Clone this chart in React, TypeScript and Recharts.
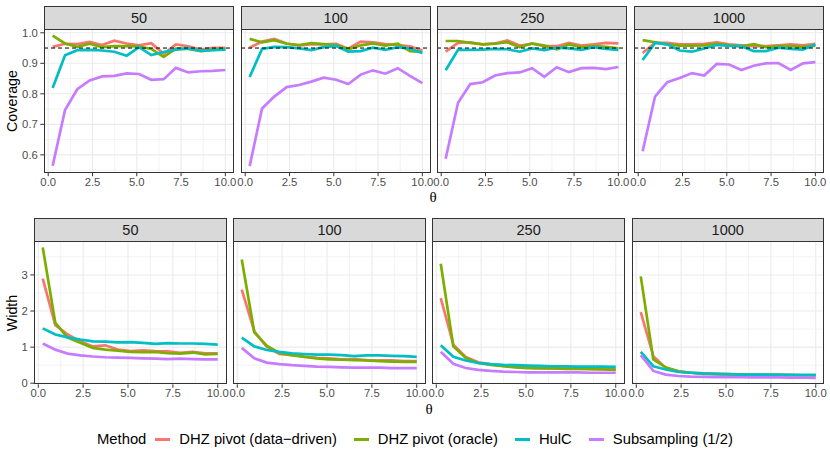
import { CartesianGrid, Line, LineChart, ReferenceLine, XAxis, YAxis } from "recharts";

const THETA = [0.25, 0.95, 1.64, 2.34, 3.04, 3.73, 4.43, 5.13, 5.82, 6.52, 7.21, 7.91, 8.61, 9.3, 10];

const METHODS = ["DHZ pivot (data\u2212driven)", "DHZ pivot (oracle)", "HulC", "Subsampling (1/2)"];
const COLORS = ["#F8766D", "#7CAE00", "#00BFC4", "#C77CFF"];
const SAMPLE_SIZES = ["50", "100", "250", "1000"];

// rows follow METHODS order
const COVERAGE_50 = [
  [0.954, 0.964, 0.963, 0.97, 0.96, 0.974, 0.965, 0.959, 0.966, 0.931, 0.962, 0.956, 0.945, 0.951, 0.951],
  [0.991, 0.965, 0.954, 0.964, 0.953, 0.956, 0.956, 0.955, 0.947, 0.921, 0.948, 0.947, 0.94, 0.945, 0.947],
  [0.819, 0.926, 0.943, 0.944, 0.942, 0.938, 0.925, 0.953, 0.927, 0.937, 0.945, 0.949, 0.941, 0.943, 0.945],
  [0.564, 0.747, 0.815, 0.844, 0.857, 0.859, 0.867, 0.865, 0.846, 0.848, 0.885, 0.87, 0.874, 0.875, 0.878],
];
const COVERAGE_100 = [
  [0.951, 0.971, 0.98, 0.965, 0.958, 0.963, 0.962, 0.964, 0.948, 0.971, 0.969, 0.963, 0.96, 0.956, 0.942],
  [0.98, 0.969, 0.976, 0.964, 0.96, 0.966, 0.963, 0.96, 0.946, 0.959, 0.965, 0.958, 0.964, 0.94, 0.937],
  [0.855, 0.947, 0.954, 0.953, 0.949, 0.943, 0.953, 0.957, 0.938, 0.94, 0.951, 0.944, 0.953, 0.948, 0.934],
  [0.563, 0.752, 0.791, 0.822, 0.829, 0.84, 0.853, 0.846, 0.832, 0.863, 0.877, 0.866, 0.884, 0.859, 0.835],
];
const COVERAGE_250 = [
  [0.938, 0.967, 0.969, 0.962, 0.965, 0.975, 0.958, 0.964, 0.956, 0.956, 0.967, 0.958, 0.962, 0.967, 0.965],
  [0.973, 0.973, 0.967, 0.962, 0.964, 0.969, 0.953, 0.965, 0.958, 0.946, 0.962, 0.953, 0.956, 0.954, 0.949],
  [0.877, 0.944, 0.944, 0.945, 0.947, 0.946, 0.938, 0.949, 0.943, 0.951, 0.949, 0.944, 0.953, 0.947, 0.944],
  [0.587, 0.771, 0.832, 0.838, 0.86, 0.868, 0.87, 0.884, 0.856, 0.887, 0.871, 0.884, 0.885, 0.881, 0.888],
];
const COVERAGE_1000 = [
  [0.934, 0.967, 0.967, 0.962, 0.962, 0.964, 0.969, 0.962, 0.959, 0.956, 0.956, 0.959, 0.962, 0.959, 0.964],
  [0.976, 0.969, 0.962, 0.958, 0.958, 0.959, 0.964, 0.959, 0.956, 0.963, 0.953, 0.956, 0.956, 0.954, 0.958],
  [0.911, 0.967, 0.962, 0.942, 0.938, 0.949, 0.96, 0.957, 0.956, 0.94, 0.94, 0.951, 0.947, 0.945, 0.962],
  [0.612, 0.791, 0.838, 0.852, 0.868, 0.86, 0.898, 0.896, 0.878, 0.892, 0.9, 0.901, 0.878, 0.9, 0.904],
];

const WIDTH_50 = [
  [2.9, 1.61, 1.35, 1.16, 1.02, 1.05, 0.93, 0.89, 0.91, 0.89, 0.88, 0.84, 0.87, 0.83, 0.83],
  [3.76, 1.67, 1.26, 1.12, 0.98, 0.93, 0.9, 0.87, 0.86, 0.87, 0.83, 0.82, 0.85, 0.8, 0.81],
  [1.52, 1.35, 1.27, 1.21, 1.16, 1.15, 1.13, 1.14, 1.12, 1.09, 1.11, 1.1, 1.1, 1.09, 1.07],
  [1.1, 0.93, 0.82, 0.77, 0.74, 0.72, 0.71, 0.7, 0.69, 0.68, 0.67, 0.68, 0.67, 0.66, 0.66],
];
const WIDTH_100 = [
  [2.59, 1.44, 1.01, 0.81, 0.78, 0.74, 0.7, 0.69, 0.66, 0.67, 0.64, 0.63, 0.63, 0.61, 0.61],
  [3.43, 1.41, 1.04, 0.84, 0.78, 0.73, 0.69, 0.66, 0.65, 0.64, 0.63, 0.61, 0.6, 0.59, 0.59],
  [1.26, 1.02, 0.92, 0.87, 0.83, 0.81, 0.79, 0.79, 0.78, 0.75, 0.77, 0.77, 0.76, 0.75, 0.73],
  [0.98, 0.69, 0.57, 0.53, 0.5, 0.48, 0.46, 0.45, 0.44, 0.43, 0.43, 0.43, 0.42, 0.42, 0.42],
];
const WIDTH_250 = [
  [2.36, 1.07, 0.73, 0.58, 0.52, 0.48, 0.45, 0.43, 0.42, 0.41, 0.41, 0.41, 0.4, 0.4, 0.4],
  [3.31, 1.02, 0.7, 0.56, 0.51, 0.47, 0.44, 0.42, 0.41, 0.41, 0.4, 0.4, 0.39, 0.38, 0.37],
  [1.05, 0.73, 0.63, 0.56, 0.53, 0.51, 0.5, 0.49, 0.48, 0.47, 0.47, 0.46, 0.46, 0.46, 0.45],
  [0.87, 0.54, 0.42, 0.37, 0.34, 0.32, 0.31, 0.3, 0.3, 0.3, 0.3, 0.3, 0.29, 0.29, 0.29],
];
const WIDTH_1000 = [
  [1.97, 0.75, 0.42, 0.33, 0.29, 0.27, 0.26, 0.25, 0.24, 0.24, 0.23, 0.23, 0.23, 0.22, 0.22],
  [2.96, 0.66, 0.44, 0.33, 0.29, 0.26, 0.25, 0.24, 0.24, 0.23, 0.23, 0.23, 0.22, 0.22, 0.22],
  [0.87, 0.47, 0.38, 0.31, 0.29, 0.27, 0.26, 0.25, 0.24, 0.24, 0.24, 0.23, 0.23, 0.23, 0.23],
  [0.78, 0.34, 0.24, 0.2, 0.18, 0.175, 0.17, 0.17, 0.165, 0.16, 0.16, 0.16, 0.155, 0.155, 0.15],
];

const X_TICKS = [0, 2.5, 5, 7.5, 10];
const X_MINOR = [1.25, 3.75, 6.25, 8.75];
const COV_TICKS = [0.6, 0.7, 0.8, 0.9, 1.0];
const COV_MINOR = [0.55, 0.65, 0.75, 0.85, 0.95];
const WID_TICKS = [0, 1, 2, 3];
const WID_MINOR = [0.5, 1.5, 2.5, 3.5];

const X_DOMAIN: [number, number] = [-0.2375, 10.4875];
const COV_DOMAIN: [number, number] = [0.5416, 1.0124];
const WID_DOMAIN: [number, number] = [-0.03, 3.94];

const FONT = "'Liberation Sans', Arial, Helvetica, sans-serif";
const TICK_STYLE = { fill: "#4D4D4D", fontSize: 11.3 };

function toRows(series: number[][]) {
  return THETA.map((theta, i) => {
    const row: Record<string, number> = { theta };
    series.forEach((s, k) => (row["m" + k] = s[i]));
    return row;
  });
}

type PanelProps = {
  label: string;
  series: number[][];
  left: number;
  top: number;
  width: number;
  height: number;
  yAxisWidth: number;
  domain: [number, number];
  ticks: number[];
  minor: number[];
  digits: number;
  hline?: number;
};

function Panel({ label, series, left, top, width, height, yAxisWidth, domain, ticks, minor, digits, hline }: PanelProps) {
  const data = toRows(series);
  const padR = 16;
  const padL = 10;
  const padT = 8;
  const stripH = 23.5;
  return (
    <>
      <div
        style={{
          position: "absolute",
          left,
          top: top - stripH,
          width,
          height: stripH,
          boxSizing: "border-box",
          background: "#D9D9D9",
          border: "1px solid #333333",
          borderBottom: "none",
          color: "#1A1A1A",
          fontSize: 14.5,
          lineHeight: `${stripH}px`,
          textAlign: "center",
        }}
      >
        {label}
      </div>
      <div style={{ position: "absolute", left: left - yAxisWidth - padL, top: top - padT }}>
        <LineChart
          width={padL + yAxisWidth + width + padR}
          height={padT + height + 22}
          data={data}
          margin={{ top: padT, right: padR, bottom: 0, left: padL }}
        >
          <CartesianGrid
            stroke="#EBEBEB"
            strokeWidth={0.6}
            horizontalValues={minor}
            verticalValues={X_MINOR}
            syncWithTicks
          />
          <CartesianGrid stroke="#EBEBEB" strokeWidth={1.1} horizontalValues={ticks} verticalValues={X_TICKS} syncWithTicks />
          <XAxis
            dataKey="theta"
            type="number"
            domain={X_DOMAIN}
            allowDataOverflow
            ticks={X_TICKS}
            interval={0}
            tickFormatter={(v: number) => v.toFixed(1)}
            axisLine={false}
            tickLine={{ stroke: "#333333" }}
            tickSize={3.5}
            tickMargin={1.5}
            height={22}
            tick={TICK_STYLE}
          />
          <YAxis
            type="number"
            domain={domain}
            allowDataOverflow
            ticks={ticks}
            interval={0}
            hide={yAxisWidth === 0}
            width={yAxisWidth}
            tickFormatter={(v: number) => v.toFixed(digits)}
            axisLine={false}
            tickLine={{ stroke: "#333333" }}
            tickSize={3.7}
            tickMargin={2.5}
            tick={TICK_STYLE}
          />
          {series.map((_, k) => (
            <Line
              key={k}
              type="linear"
              dataKey={"m" + k}
              stroke={COLORS[k]}
              strokeWidth={2.7}
              dot={false}
              activeDot={false}
              isAnimationActive={false}
            />
          ))}
          {hline !== undefined && (
            <ReferenceLine y={hline} stroke="#000000" strokeWidth={1} strokeDasharray="4 3" />
          )}
        </LineChart>
      </div>
      <div
        style={{
          position: "absolute",
          left,
          top,
          width,
          height,
          boxSizing: "border-box",
          border: "1px solid #333333",
          pointerEvents: "none",
        }}
      />
    </>
  );
}

const COVERAGE = [COVERAGE_50, COVERAGE_100, COVERAGE_250, COVERAGE_1000];
const WIDTHS = [WIDTH_50, WIDTH_100, WIDTH_250, WIDTH_1000];

export default function App() {
  const topLefts = [44, 240.7, 437.3, 634];
  const botLefts = [34.2, 233.3, 432.4, 631.5];
  return (
    <div style={{ position: "relative", width: 830, height: 453, background: "#FFFFFF", fontFamily: FONT, overflow: "hidden" }}>
      <style>{"body{margin:0}"}</style>
      {SAMPLE_SIZES.map((n, i) => (
        <Panel
          key={"c" + n}
          label={n}
          series={COVERAGE[i]}
          left={topLefts[i]}
          top={29.3}
          width={190}
          height={143.7}
          yAxisWidth={i === 0 ? 34 : 0}
          domain={COV_DOMAIN}
          ticks={COV_TICKS}
          minor={COV_MINOR}
          digits={1}
          hline={0.95}
        />
      ))}
      {SAMPLE_SIZES.map((n, i) => (
        <Panel
          key={"w" + n}
          label={n}
          series={WIDTHS[i]}
          left={botLefts[i]}
          top={241}
          width={192.5}
          height={143.3}
          yAxisWidth={i === 0 ? 24 : 0}
          domain={WID_DOMAIN}
          ticks={WID_TICKS}
          minor={WID_MINOR}
          digits={0}
        />
      ))}
      <div style={{ position: "absolute", left: 12, top: 101, transform: "translate(-50%, -50%) rotate(-90deg)", fontSize: 14.3, color: "#000", whiteSpace: "nowrap" }}>
        Coverage
      </div>
      <div style={{ position: "absolute", left: 12, top: 312.5, transform: "translate(-50%, -50%) rotate(-90deg)", fontSize: 14.3, color: "#000", whiteSpace: "nowrap" }}>
        Width
      </div>
      <div style={{ position: "absolute", left: 433, top: 196.5, transform: "translate(-50%, -50%)", fontSize: 15, fontFamily: "'Liberation Serif', serif" }}>
        θ
      </div>
      <div style={{ position: "absolute", left: 429, top: 409, transform: "translate(-50%, -50%)", fontSize: 15, fontFamily: "'Liberation Serif', serif" }}>
        θ
      </div>
      <div
        style={{
          position: "absolute",
          left: 97,
          top: 439,
          transform: "translateY(-50%)",
          display: "flex",
          alignItems: "center",
          fontSize: 14.8,
          color: "#000",
          whiteSpace: "nowrap",
        }}
      >
        <span style={{ marginRight: 9 }}>Method</span>
        {METHODS.map((m, k) => (
          <span key={m} style={{ display: "flex", alignItems: "center", marginRight: 17 }}>
            <span style={{ display: "inline-block", width: 15, height: 3, background: COLORS[k], marginRight: 9 }} />
            {m}
          </span>
        ))}
      </div>
    </div>
  );
}
